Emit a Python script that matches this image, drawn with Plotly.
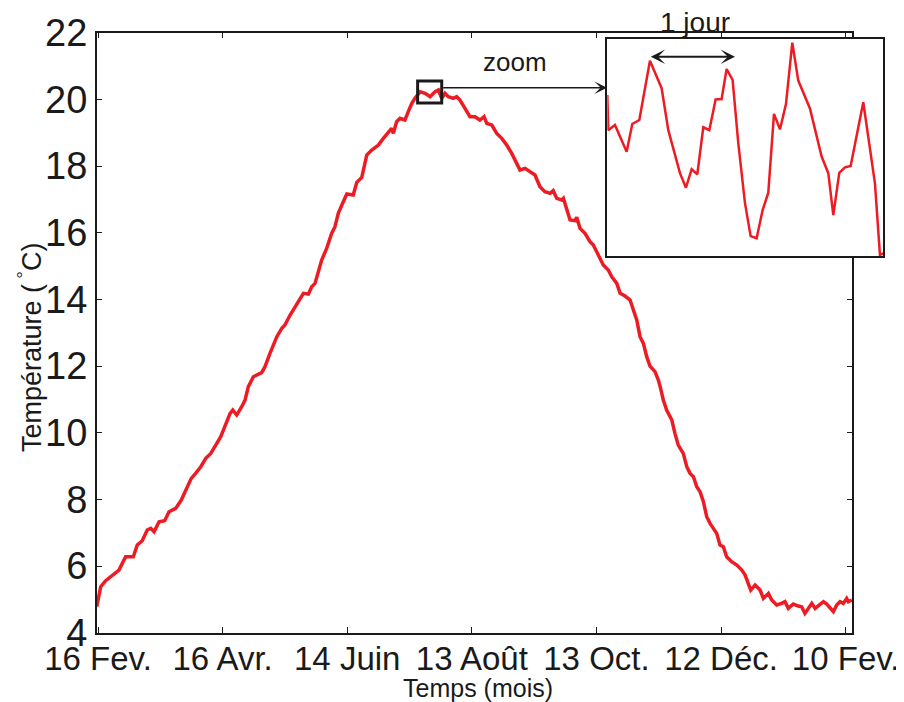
import plotly.graph_objects as go

# ---------------- data ----------------
days = [-0.6, 0.5, 1.3, 3.7, 6.1, 8.0, 10.1, 11.7, 13.3, 17.0, 18.9, 21.3, 23.7, 25.4, 27.0, 29.4,
        32.1, 34.2, 37.4, 40.1, 42.2, 44.9, 47.0, 49.5, 51.9, 54.3, 56.7, 59.1, 60.7, 63.6, 64.9,
        66.8, 69.2, 70.8, 72.4, 74.8, 78.8, 80.4, 82.8, 86.1, 88.5, 90.0, 92.5, 94.9, 97.3, 98.9,
        101.3, 102.9, 104.5, 106.1, 107.7, 110.1, 112.5, 114.1, 115.7, 117.4, 119.8, 122.9, 124.6,
        127.0, 129.4, 131.8, 135.0, 137.4, 139.8, 141.4, 142.2, 143.8, 145.4, 147.8, 149.4, 151.1,
        152.6, 155.1, 157.5, 159.9, 162.3, 163.9, 165.5, 167.1, 168.7, 171.1, 172.7, 174.3, 176.7,
        179.1, 181.5, 183.9, 185.9, 187.2, 189.6, 192.0, 194.4, 196.8, 199.2, 201.6, 203.2, 205.6,
        208.0, 210.4, 212.8, 215.2, 217.7, 219.2, 220.9, 223.3, 224.1, 225.7, 227.3, 229.7, 230.5,
        232.1, 234.5, 236.9, 238.5, 240.9, 243.3, 245.7, 247.4, 249.8, 251.4, 253.8, 256.2, 257.8,
        259.4, 261.0, 262.6, 264.2, 265.8, 268.2, 269.8, 270.9, 272.2, 273.8, 276.3, 277.8, 279.4,
        281.8, 283.5, 285.1, 286.7, 288.3, 289.9, 291.5, 293.1, 294.7, 296.3, 297.9, 299.5, 301.1,
        302.7, 305.1, 307.6, 310.0, 311.6, 313.2, 314.3, 316.4, 318.8, 320.4, 322.8, 324.4, 326.8,
        329.2, 330.8, 332.4, 334.8, 337.2, 338.8, 340.4, 342.0, 343.7, 345.3, 347.7, 349.3, 350.9,
        352.5, 354.1, 355.7, 357.3, 358.9, 360.5, 361.3, 363.0]
temperature = [4.78, 5.18, 5.38, 5.56, 5.68, 5.78, 5.88, 6.08, 6.28, 6.28, 6.63, 6.76, 7.08, 7.13, 7.03,
               7.33, 7.36, 7.63, 7.73, 7.98, 8.28, 8.63, 8.78, 8.98, 9.23, 9.38, 9.63, 9.88, 10.13,
               10.58, 10.68, 10.53, 10.78, 10.98, 11.38, 11.68, 11.80, 11.98, 12.38, 12.88, 13.13,
               13.23, 13.53, 13.78, 14.03, 14.18, 14.16, 14.38, 14.48, 14.88, 15.18, 15.53, 15.98,
               16.18, 16.58, 16.83, 17.16, 17.13, 17.51, 17.66, 18.33, 18.48, 18.63, 18.83, 19.03,
               19.13, 18.98, 19.33, 19.43, 19.38, 19.63, 19.88, 20.03, 20.23, 20.18, 20.08, 20.23,
               20.28, 20.03, 20.18, 20.08, 20.03, 20.08, 19.98, 19.73, 19.48, 19.48, 19.38, 19.48,
               19.28, 19.23, 18.98, 18.83, 18.63, 18.38, 18.08, 17.88, 17.93, 17.83, 17.73, 17.38,
               17.23, 17.18, 17.26, 17.03, 16.98, 17.03, 16.73, 16.38, 16.36, 16.46, 16.13, 15.98,
               15.73, 15.63, 15.33, 15.03, 14.88, 14.68, 14.48, 14.18, 14.10, 13.98, 13.68, 13.38,
               12.88, 12.68, 12.28, 12.00, 11.83, 11.58, 11.33, 10.98, 10.68, 10.38, 9.98, 9.63,
               9.38, 8.98, 8.78, 8.68, 8.38, 8.23, 7.93, 7.48, 7.28, 7.13, 6.98, 6.63, 6.58, 6.28,
               6.13, 6.03, 5.88, 5.73, 5.48, 5.28, 5.43, 5.28, 5.03, 5.18, 4.98, 4.83, 4.88, 4.93,
               4.73, 4.86, 4.80, 4.78, 4.58, 4.73, 4.88, 4.73, 4.86, 4.93, 4.86, 4.73, 4.63, 4.83,
               4.93, 4.88, 5.03, 4.93, 4.98]

tick_days = [0, 60, 120, 180, 240, 300, 360]
tick_labels = ["16 Fev.", "16 Avr.", "14 Juin", "13 Août", "13 Oct.", "12 Déc.", "10 Fev."]
y_ticks = [4, 6, 8, 10, 12, 14, 16, 18, 20, 22]

# zoomed window (about 3 days, in hours)
zoom_hours = [0, 0.28, 2.15, 5.42, 7.00, 8.97, 11.95, 15.22, 17.09, 20.36, 22.04, 23.63, 25.22,
              26.90, 28.58, 30.35, 32.03, 33.43, 35.11, 36.70, 38.57, 40.16, 41.84, 43.52, 45.11,
              46.70, 48.38, 50.06, 51.83, 53.51, 56.78, 60.05, 61.92, 63.32, 65.00, 66.59, 68.18,
              71.72, 74.99, 76.39, 77.33]
zoom_temp = [20.445, 20.348, 20.362, 20.288, 20.365, 20.376, 20.540, 20.464, 20.348, 20.229,
             20.189, 20.240, 20.226, 20.356, 20.348, 20.433, 20.434, 20.517, 20.487, 20.312,
             20.147, 20.055, 20.049, 20.127, 20.175, 20.393, 20.350, 20.420, 20.590, 20.485,
             20.408, 20.275, 20.229, 20.113, 20.230, 20.245, 20.249, 20.425, 20.201, 20.003,
             20.007]

zoom_box_days = [153.9, 165.5]
zoom_box_temp = [19.89, 20.55]
zoom_arrow_temp = 20.35
zoom_arrow_end_day = 245.1
day_arrow_hours = [11.77, 35.77]
day_arrow_temp = 20.551

RED = "#ED1C24"
FONT = "Liberation Sans, Arial, Helvetica, sans-serif"
INK = "#1a1a1a"

W, H, OFF = 904, 702, 8  # page body margin offsets the figure by 8 px


def fx(px):
    return (px - OFF) / W


def fy(py):
    return (H - (py - OFF)) / H


fig = go.Figure()
fig.add_trace(go.Scatter(x=days, y=temperature, mode="lines",
                         line=dict(color=RED, width=3.5), xaxis="x", yaxis="y",
                         showlegend=False, hoverinfo="skip"))
fig.add_trace(go.Scatter(x=zoom_hours, y=zoom_temp, mode="lines",
                         line=dict(color=RED, width=2.5), xaxis="x2", yaxis="y2",
                         showlegend=False, hoverinfo="skip"))

axis_common = dict(showgrid=False, zeroline=False, showline=True, linecolor=INK, linewidth=1.5,
                   mirror="allticks", ticks="inside", ticklen=6, tickwidth=1, tickcolor=INK,
                   automargin=False, tickangle=0)

fig.update_layout(
    width=W, height=H,
    margin=dict(l=0, r=0, t=0, b=0),
    paper_bgcolor="white", plot_bgcolor="white",
    xaxis=dict(domain=[fx(96.7), fx(852.3)], range=[-0.63, 363.2],
               tickmode="array", tickvals=tick_days, ticktext=tick_labels,
               ticklabelstandoff=-4,
               tickfont=dict(family=FONT, size=33, color=INK), **axis_common),
    yaxis=dict(domain=[fy(632.7), fy(32.7)], range=[4, 22],
               tickmode="array", tickvals=y_ticks,
               tickfont=dict(family=FONT, size=38, color=INK), **axis_common),
    xaxis2=dict(domain=[fx(607.3), fx(883.3)], range=[0, 77.33], anchor="y2",
                showgrid=False, zeroline=False, showticklabels=False, ticks="",
                showline=True, mirror=True, linecolor=INK, linewidth=1.5),
    yaxis2=dict(domain=[fy(256), fy(39)], range=[20.0, 20.6], anchor="x2",
                showgrid=False, zeroline=False, showticklabels=False, ticks="",
                showline=True, mirror=True, linecolor=INK, linewidth=1.5),
)

# white background of the inset, hiding the main frame behind it
fig.add_shape(type="rect", xref="x2 domain", yref="y2 domain", x0=0, x1=1, y0=0, y1=1,
              fillcolor="white", line=dict(width=0), layer="below")

# zoom window on the main curve
fig.add_shape(type="rect", xref="x", yref="y",
              x0=zoom_box_days[0], x1=zoom_box_days[1], y0=zoom_box_temp[0], y1=zoom_box_temp[1],
              line=dict(color=INK, width=3))

# arrow from the window to the inset
fig.add_annotation(x=zoom_arrow_end_day, y=zoom_arrow_temp, ax=zoom_box_days[1], ay=zoom_arrow_temp,
                   xref="x", yref="y", axref="x", ayref="y", text="", showarrow=True,
                   arrowhead=3, arrowsize=1.4, arrowwidth=1.5, arrowcolor=INK)

# "1 jour" double arrow
fig.add_annotation(x=day_arrow_hours[1], y=day_arrow_temp, ax=day_arrow_hours[0], ay=day_arrow_temp,
                   xref="x2", yref="y2", axref="x2", ayref="y2", text="", showarrow=True,
                   arrowhead=3, startarrowhead=3, arrowside="end+start", arrowsize=1.2,
                   startarrowsize=1.2, arrowwidth=2, arrowcolor=INK)

fig.add_annotation(x=fx(515), y=fy(62), xref="paper", yref="paper", text="zoom",
                   xanchor="center", yanchor="middle", showarrow=False,
                   font=dict(family=FONT, size=26, color=INK))
fig.add_annotation(x=fx(695), y=fy(22), xref="paper", yref="paper", text="1 jour",
                   xanchor="center", yanchor="middle", showarrow=False,
                   font=dict(family=FONT, size=28, color=INK))

# axis titles
fig.add_annotation(x=fx(30), y=fy(348), xref="paper", yref="paper",
                   text="Température (<sup> °</sup>C)", textangle=-90, showarrow=False,
                   xanchor="center", yanchor="middle",
                   font=dict(family=FONT, size=27, color=INK))
fig.add_annotation(x=fx(478), y=fy(688), xref="paper", yref="paper",
                   text="Temps (mois)", showarrow=False, xanchor="center", yanchor="middle",
                   font=dict(family=FONT, size=25, color=INK))

fig.write_html("out.html")
